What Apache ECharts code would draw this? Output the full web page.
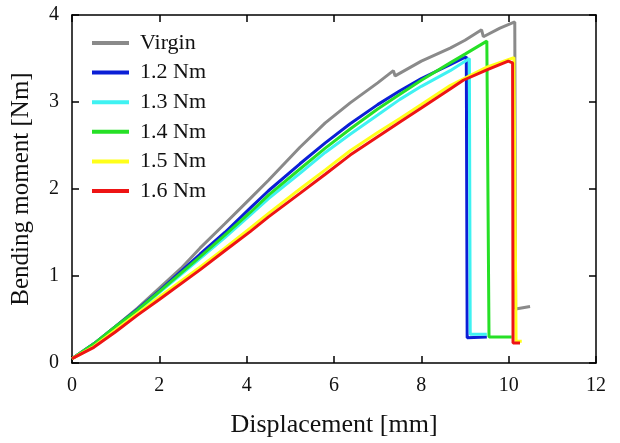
<!DOCTYPE html>
<html>
<head>
<meta charset="utf-8">
<script src="https://cdn.jsdelivr.net/npm/echarts@6/dist/echarts.min.js"></script>
<style>
  html, body { margin: 0; padding: 0; background: #fff; }
  #chart { width: 620px; height: 443px; }
</style>
</head>
<body>
<div id="chart"></div>
<script>
// displacement [mm], bending moment [Nm]
var seriesNames = ['Virgin', '1.2 Nm', '1.3 Nm', '1.4 Nm', '1.5 Nm', '1.6 Nm'];
var seriesColors = ['#8a8a8a', '#0b1fd6', '#3ff2f2', '#26e026', '#ffff1a', '#ee1414'];

var virgin = [[0,0.05],[0.5,0.22],[1,0.42],[1.5,0.63],[2,0.86],[2.5,1.09],[2.93,1.32],[3.5,1.6],
  [4.08,1.89],[4.5,2.1],[5.22,2.48],[5.8,2.76],[6.37,2.99],[7,3.22],[7.36,3.36],[7.4,3.3],[8,3.47],
  [8.66,3.62],[9,3.71],[9.38,3.83],[9.42,3.75],[9.8,3.85],[10.14,3.92],[10.16,0.62],[10.49,0.65]];
var nm12 = [[0,0.05],[0.5,0.22],[1,0.42],[1.5,0.62],[2,0.83],[2.93,1.25],[3.5,1.5],[4.08,1.78],
  [4.5,1.98],[5.22,2.29],[5.8,2.53],[6.37,2.75],[7,2.97],[7.51,3.13],[8,3.27],[8.66,3.43],[9.03,3.52],
  [9.05,0.29],[9.5,0.3]];
var nm13 = [[0,0.05],[0.5,0.21],[1,0.41],[1.5,0.6],[2,0.81],[2.93,1.2],[3.5,1.44],[4.08,1.7],
  [4.5,1.89],[5.22,2.18],[5.8,2.42],[6.37,2.63],[7,2.85],[7.51,3.03],[8,3.18],[8.66,3.36],[9.1,3.5],
  [9.12,0.33],[9.5,0.33]];
var nm14 = [[0,0.05],[0.5,0.22],[1,0.42],[1.5,0.61],[2,0.82],[2.93,1.22],[3.5,1.47],[4.08,1.73],
  [4.5,1.93],[5.22,2.23],[5.8,2.47],[6.37,2.69],[7,2.92],[7.51,3.09],[8,3.25],[8.66,3.45],[9,3.55],
  [9.5,3.7],[9.55,0.3],[10.07,0.3]];
var nm15 = [[0,0.05],[0.5,0.19],[1,0.38],[1.5,0.57],[2,0.76],[2.93,1.1],[3.5,1.32],[4.08,1.55],
  [4.5,1.72],[5.22,2.0],[5.8,2.22],[6.37,2.44],[7,2.65],[7.51,2.81],[8,2.97],[8.66,3.19],[9.5,3.4],
  [10.12,3.51],[10.17,0.25],[10.3,0.25]];
var nm16 = [[0,0.05],[0.5,0.18],[1,0.36],[1.5,0.55],[2,0.73],[2.93,1.07],[3.5,1.29],[4.08,1.51],
  [4.5,1.68],[5.22,1.95],[5.8,2.17],[6.37,2.39],[7,2.6],[7.51,2.77],[8,2.93],[8.66,3.15],[8.96,3.25],
  [9.5,3.37],[9.99,3.47],[10.09,3.45],[10.1,0.23],[10.26,0.23]];
var curves = [virgin, nm12, nm13, nm14, nm15, nm16];

var xTicks = [0, 12, 2];   // min, max, step
var yTicks = [0, 4, 1];

var font = "'Liberation Serif', 'Times New Roman', serif";

var chart = echarts.init(document.getElementById('chart'));

var series = [];
for (var i = 0; i < curves.length; i++) {
  series.push({
    name: seriesNames[i],
    type: 'line',
    data: curves[i],
    showSymbol: false,
    symbol: 'none',
    lineStyle: { width: 3, color: seriesColors[i] },
    itemStyle: { color: seriesColors[i] },
    z: 2 + i
  });
}

// every side of the box gets the same line and inward ticks
var boxAxis = {
  axisLine: { show: true, onZero: false, lineStyle: { color: '#000', width: 1.5 } },
  axisTick: { show: true, inside: true, length: 7, lineStyle: { color: '#000', width: 1.5 } },
  splitLine: { show: false }
};

var option = {
  animation: false,
  backgroundColor: '#fff',
  grid: { left: 72, right: 24, top: 15, bottom: 77 },
  legend: {
    data: seriesNames,
    orient: 'vertical',
    left: 92,
    top: 32,
    padding: 0,
    icon: 'rect',
    itemWidth: 37,
    itemHeight: 4,
    itemGap: 7.6,
    textStyle: { fontFamily: font, fontSize: 22, lineHeight: 22, color: '#111', padding: [0, 0, 0, 6] }
  },
  xAxis: [
    Object.assign({}, boxAxis, {
      type: 'value', min: xTicks[0], max: xTicks[1], interval: xTicks[2],
      name: 'Displacement [mm]', nameLocation: 'middle', nameGap: 49,
      nameTextStyle: { fontFamily: font, fontSize: 26, color: '#111' },
      axisLabel: { fontFamily: font, fontSize: 20, color: '#111', margin: 13 }
    }),
    Object.assign({}, boxAxis, {
      type: 'value', position: 'top', min: xTicks[0], max: xTicks[1], interval: xTicks[2],
      axisLabel: { show: false }
    })
  ],
  yAxis: [
    Object.assign({}, boxAxis, {
      type: 'value', min: yTicks[0], max: yTicks[1], interval: yTicks[2],
      name: 'Bending moment [Nm]', nameLocation: 'middle', nameGap: 38,
      nameTextStyle: { fontFamily: font, fontSize: 25, color: '#111' },
      axisLabel: { fontFamily: font, fontSize: 20, color: '#111', margin: 13 }
    }),
    Object.assign({}, boxAxis, {
      type: 'value', position: 'right', min: yTicks[0], max: yTicks[1], interval: yTicks[2],
      axisLabel: { show: false }
    })
  ],
  series: series
};

chart.setOption(option);
</script>
</body>
</html>
